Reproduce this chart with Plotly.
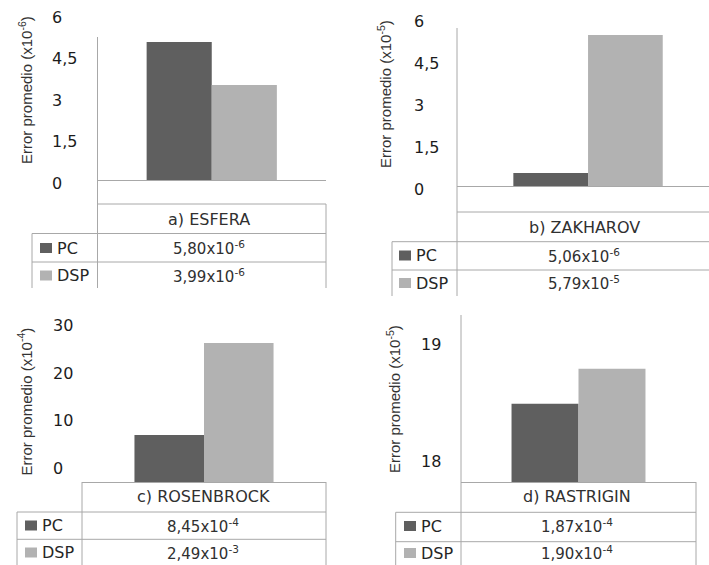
import plotly.graph_objects as go

# ---------------- data ----------------
categories = ["a) ESFERA", "b) ZAKHAROV", "c) ROSENBROCK", "d) RASTRIGIN"]
series = ["PC", "DSP"]
pc_values = [4.99, 0.46, 9.9, 18.49]
dsp_values = [3.43, 5.39, 29.3, 18.79]
pc_table = ["5,80x10<sup>-6</sup>", "5,06x10<sup>-6</sup>", "8,45x10<sup>-4</sup>", "1,87x10<sup>-4</sup>"]
dsp_table = ["3,99x10<sup>-6</sup>", "5,79x10<sup>-5</sup>", "2,49x10<sup>-3</sup>", "1,90x10<sup>-4</sup>"]
exponents = ["-6", "-5", "-4", "-5"]
tick_vals = [[0, 1.5, 3, 4.5, 6], [0, 1.5, 3, 4.5, 6], [0, 10, 20, 30], [18, 19]]
tick_text = [["0", "1,5", "3", "4,5", "6"], ["0", "1,5", "3", "4,5", "6"],
             ["0", "10", "20", "30"], ["18", "19"]]

# ---------------- styling / layout (pixels) ----------------
W, H = 709, 565
C_PC = "#5f5f5f"
C_DSP = "#b2b2b2"
C_LINE = "#a8a8a8"
C_TXT = "#262626"
WIDE = "DejaVu Sans, Verdana, sans-serif"

panels = [
    dict(px=(97.5, 326), py=(11.2, 180), xr=(-0.5, 0.5), yr=(0, 6.1), lab=51, shift=3,
         vline=(97.5, 37, 288), title=(25, 90),
         table_top=(204, 97.5, 326), rows=(233.5, 262), row_x=(32, 326), right=(326, 204, 288),
         left=(32, 233.5, 288), text_x=209, text_y=(219, 248, 275.5), sq=40),
    dict(px=(457, 709), py=(15.2, 186), xr=(-0.5, 0.4615), yr=(0, 6.1), lab=413, shift=3,
         vline=(457, 28, 296), title=(385, 94),
         table_top=(212, 457, 709), rows=(241.7, 270), row_x=(392, 709), right=None,
         left=(392, 241.7, 296), text_x=584, text_y=(227.5, 255.5, 283), sq=399),
    dict(px=(82, 326), py=(335, 482), xr=(-0.5, 0.5), yr=(0, 31), lab=52, shift=-14,
         vline=(82, 482, 565), title=(25, 401.5),
         table_top=None, rows=(512, 539.3), row_x=(17, 326), right=(326, 482, 565),
         left=(17, 512, 565), text_x=203, text_y=(497, 525.5, 552.5), sq=25),
    dict(px=(461, 696), py=(315, 482), xr=(-0.5, 0.5), yr=(17.82, 19.25), lab=420, shift=0,
         vline=(461, 315, 565), title=(393, 399),
         table_top=None, rows=(512.3, 541.7), row_x=(395.7, 696), right=(696, 482, 565),
         left=(395.7, 512.3, 565), text_x=577, text_y=(497, 526, 553), sq=404),
]


def X(p):
    return p / W


def Y(p):
    return 1 - p / H


fig = go.Figure()
shapes = []
annotations = []

for i, (cat, p) in enumerate(zip(categories, panels)):
    n = "" if i == 0 else str(i + 1)
    xa, ya = "x" + n, "y" + n
    for name, vals, col in ((series[0], pc_values, C_PC), (series[1], dsp_values, C_DSP)):
        fig.add_trace(go.Bar(x=[cat], y=[vals[i]], name=name, marker_color=col,
                             marker_line_width=0, xaxis=xa, yaxis=ya, showlegend=False))
    fig.layout["xaxis" + n] = dict(domain=[X(p["px"][0]), X(p["px"][1])], range=list(p["xr"]),
                                   anchor=ya, showticklabels=False, ticks="", showgrid=False,
                                   zeroline=False, showline=True, linecolor=C_LINE, linewidth=1,
                                   type="category", fixedrange=True, automargin=False)
    fig.layout["yaxis" + n] = dict(domain=[Y(p["py"][1]), Y(p["py"][0])], range=list(p["yr"]),
                                   anchor="free", position=X(p["lab"] - 3),
                                   ticklabelposition="inside", ticklabeloverflow="allow",
                                   ticklabelshift=p["shift"], automargin=False,
                                   tickvals=tick_vals[i], ticktext=tick_text[i], ticks="",
                                   showgrid=False, zeroline=False, showline=False,
                                   tickfont=dict(family=WIDE, size=16, color="#1c1c1c"),
                                   fixedrange=True)

    def line(x0, y0, x1, y1):
        shapes.append(dict(type="line", xref="paper", yref="paper", x0=X(x0), y0=Y(y0),
                           x1=X(x1), y1=Y(y1), line=dict(color=C_LINE, width=1)))

    vx, vy0, vy1 = p["vline"]
    line(vx, vy0, vx, vy1)
    if p["table_top"]:
        ty, tx0, tx1 = p["table_top"]
        line(tx0, ty, tx1, ty)
    for ry in p["rows"]:
        line(p["row_x"][0], ry, p["row_x"][1], ry)
    if p["right"]:
        rx, ry0, ry1 = p["right"]
        line(rx, ry0, rx, ry1)
    lx, ly0, ly1 = p["left"]
    line(lx, ly0, lx, ly1)

    # table texts
    for txt, ty, fs in zip([cat, pc_table[i], dsp_table[i]], p["text_y"], (16, 15, 15)):
        annotations.append(dict(xref="paper", yref="paper", x=X(p["text_x"]), y=Y(ty),
                                text=txt, showarrow=False, xanchor="center", yanchor="middle",
                                font=dict(family=WIDE, size=fs, color="#303030")))
    # legend keys
    for name, col, ty in ((series[0], C_PC, p["text_y"][1]), (series[1], C_DSP, p["text_y"][2])):
        shapes.append(dict(type="rect", xref="paper", yref="paper", x0=X(p["sq"]), x1=X(p["sq"] + 12),
                           y0=Y(ty + 5), y1=Y(ty - 5), fillcolor=col, line=dict(width=0)))
        annotations.append(dict(xref="paper", yref="paper", x=X(p["sq"] + 15), y=Y(ty), text=name,
                                showarrow=False, xanchor="left", yanchor="middle",
                                font=dict(family=WIDE, size=16, color=C_TXT)))
    # y title
    tx, ty = p["title"]
    annotations.append(dict(xref="paper", yref="paper", x=X(tx), y=Y(ty), textangle=-90,
                            text="Error promedio (x10<sup>" + exponents[i] + "</sup>)",
                            showarrow=False, xanchor="center", yanchor="middle",
                            font=dict(family="Liberation Sans, Arial, sans-serif", size=15,
                                      color="#333333")))

fig.update_layout(width=W, height=H,
                  margin=dict(l=0, r=0, t=0, b=0, pad=0, autoexpand=False),
                  paper_bgcolor="white", plot_bgcolor="white",
                  barmode="group", bargap=0.43, bargroupgap=0,
                  shapes=shapes, annotations=annotations)

fig.write_html("out.html", config={"displayModeBar": False},
               post_script="document.body.style.margin='0';document.body.style.overflow='hidden';")
